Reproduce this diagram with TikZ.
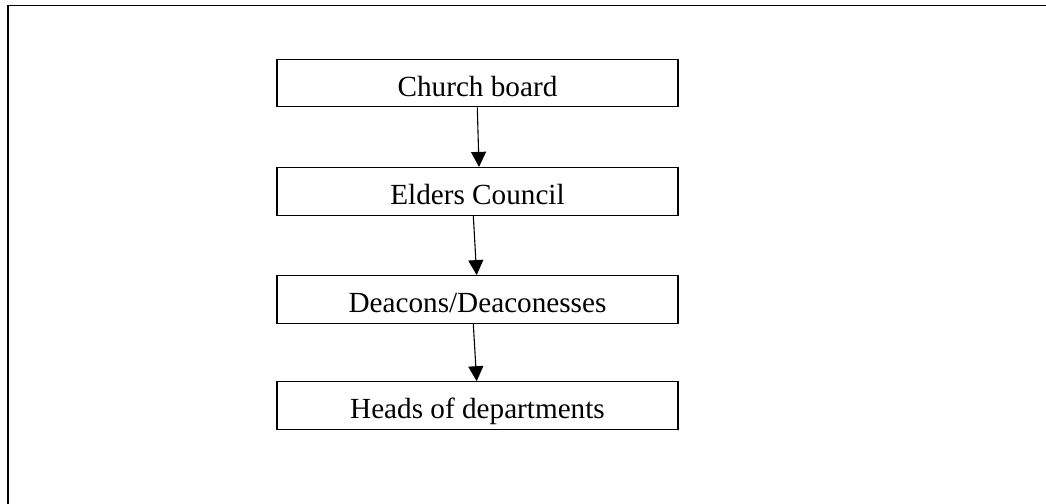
\documentclass[tikz,border=0pt]{standalone}
\usepackage{fontspec}
\setmainfont{Liberation Serif}
\usetikzlibrary{arrows.meta}
\begin{document}
\begin{tikzpicture}[x=0.5pt, y=-0.5pt,
  unit/.style={draw, line width=0.6pt, minimum width=200.5pt, minimum height=23.8pt,
    inner sep=0pt, text height=13.3pt, text depth=0pt, font=\fontsize{14.6}{17}\selectfont},
  link/.style={line width=0.55pt, -{Triangle[length=7.5pt, width=7.5pt]}}]
\def\xmid{477.5};
\def\ya{83};
\def\yb{191.3};
\def\yc{299.5};
\def\yd{405.6};

\useasboundingbox (0,0) rectangle (1046,504);
\draw[line width=0.85pt] (8,504) -- (8,5.5) -- (1046,5.5);

\node[unit] (board) at (\xmid, \ya) {Church board};
\node[unit] (elders) at (\xmid, \yb) {Elders Council};
\node[unit] (deacons) at (\xmid, \yc) {Deacons/Deaconesses};
\node[unit] (heads) at (\xmid, \yd) {Heads of departments};

\draw[link] ([xshift=-0.1pt]board.south) -- ([xshift=0.75pt]elders.north);
\draw[link] ([xshift=-2.1pt]elders.south) -- ([xshift=-0.4pt]deacons.north);
\draw[link] ([xshift=-2.1pt]deacons.south) -- ([xshift=-0.4pt]heads.north);

\end{tikzpicture}
\end{document}
